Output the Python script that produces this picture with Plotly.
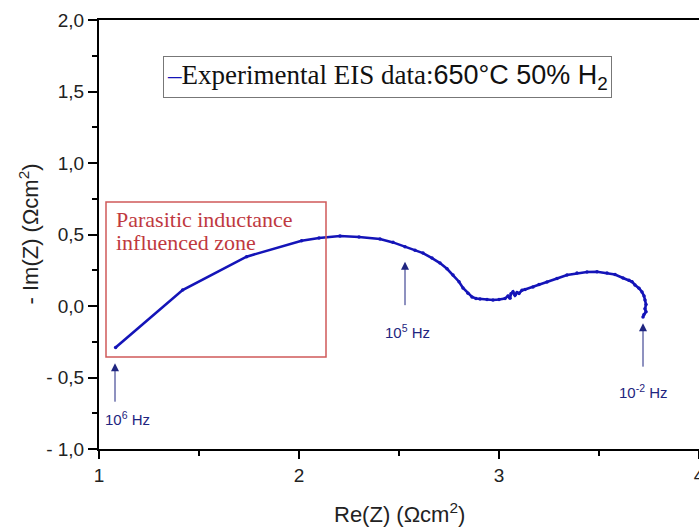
import plotly.graph_objects as go

# Nyquist data (Re(Z), -Im(Z)) in Ohm cm^2
re_z = [1.083, 1.418, 1.738, 2.013, 2.10, 2.205, 2.30, 2.405, 2.47, 2.53, 2.58, 2.62,
        2.665, 2.705, 2.74, 2.77, 2.80, 2.82, 2.845, 2.865, 2.885, 2.905, 2.94, 2.97,
        3.00, 3.03, 3.045, 3.055, 3.06, 3.07, 3.08, 3.09, 3.10, 3.115, 3.13, 3.17,
        3.20, 3.24, 3.29, 3.34, 3.39, 3.44, 3.49, 3.54, 3.58, 3.62, 3.65, 3.665,
        3.68, 3.70, 3.715, 3.725, 3.73, 3.735, 3.73, 3.735, 3.725, 3.72]
im_z = [-0.29, 0.112, 0.345, 0.457, 0.475, 0.49, 0.482, 0.469, 0.445, 0.415, 0.39, 0.37,
        0.335, 0.30, 0.26, 0.217, 0.17, 0.126, 0.09, 0.063, 0.052, 0.049, 0.045, 0.042,
        0.046, 0.052, 0.07, 0.055, 0.085, 0.10, 0.075, 0.095, 0.088, 0.11, 0.115, 0.133,
        0.15, 0.168, 0.192, 0.217, 0.23, 0.238, 0.24, 0.231, 0.22, 0.196, 0.18, 0.17,
        0.147, 0.125, 0.098, 0.07, 0.042, 0.01, -0.02, -0.04, -0.06, -0.077]

x_tickvals = [1, 2, 3, 4]
x_ticktext = ["1", "2", "3", "4"]
y_tickvals = [-1.0, -0.5, 0.0, 0.5, 1.0, 1.5, 2.0]
y_ticktext = ["- 1,0", "- 0,5", "0,0", "0,5", "1,0", "1,5", "2,0"]

# frequency markers
freq_x = [1.08, 2.53, 3.72]
freq_tip = [-0.40, 0.31, -0.12]
freq_labels = ["10<sup>6</sup> Hz", "10<sup>5</sup> Hz", "10<sup>-2</sup> Hz"]
label_x = [1.14, 2.54, 3.72]
label_y = [-0.79, -0.18, -0.60]

navy = "#1f2580"
blue = "#1414b8"
sans = "Liberation Sans, Arial, sans-serif"
serif = "Liberation Serif, Times New Roman, serif"

fig = go.Figure()
fig.add_trace(go.Scatter(
    x=re_z, y=im_z, mode="lines+markers",
    line=dict(color=blue, width=2.6),
    marker=dict(color=blue, size=3.5),
    showlegend=False, hoverinfo="skip"))

axis_font = dict(family=sans, size=19, color="#222")
fig.update_xaxes(range=[1, 4], tickvals=x_tickvals, ticktext=x_ticktext,
                 ticks="outside", ticklen=8, tickwidth=1.5, tickcolor="#000",
                 minor=dict(dtick=0.5, ticks="outside", ticklen=5, tickcolor="#000", tickwidth=1.5),
                 showline=True, linecolor="#000", linewidth=2, mirror=True,
                 ticklabeloverflow="allow", automargin=False,
                 showgrid=False, zeroline=False, tickfont=axis_font)
fig.update_yaxes(range=[-1.0, 2.0], tickvals=y_tickvals, ticktext=y_ticktext,
                 ticks="outside", ticklen=9, tickwidth=1.5, tickcolor="#000",
                 minor=dict(dtick=0.25, ticks="outside", ticklen=5, tickcolor="#000", tickwidth=1.5),
                 showline=True, linecolor="#000", linewidth=2, mirror=False,
                 automargin=False,
                 showgrid=False, zeroline=False, tickfont=axis_font)

annotations = []
annotations.append(dict(text="Re(Z) (Ωcm<sup>2</sup>)", xref="paper", yref="paper",
                        x=0.5, y=0, yshift=-64, xanchor="center", yanchor="middle", showarrow=False,
                        font=dict(family=sans, size=22, color="#222")))
annotations.append(dict(text="- Im(Z) (Ωcm<sup>2</sup>)", xref="paper", yref="paper",
                        x=0, y=0.5, xshift=-71, xanchor="center", yanchor="middle",
                        textangle=-90, showarrow=False,
                        font=dict(family=sans, size=22, color="#222")))
legend_text = ("<span style='color:" + blue + "'>–</span>Experimental EIS data:"
               "<span style='font-family:" + sans + "'>650°C 50% H<sub>2</sub></span>")
annotations.append(dict(
    text=legend_text,
    xref="x", yref="y", x=1.32, y=1.60, xanchor="left", yanchor="middle", showarrow=False,
    font=dict(family=serif, size=27, color="#111"),
    bordercolor="#777", borderwidth=1, borderpad=3, bgcolor="white"))
annotations.append(dict(text="Parasitic inductance", xref="x", yref="y",
                        x=1.075, y=0.603, xanchor="left", yanchor="middle", showarrow=False,
                        font=dict(family=serif, size=22, color="#c0393f")))
annotations.append(dict(text="influenced zone", xref="x", yref="y",
                        x=1.075, y=0.442, xanchor="left", yanchor="middle", showarrow=False,
                        font=dict(family=serif, size=22, color="#c0393f")))
tail_px = [40, 45, 45]
for fx, ft, tp in zip(freq_x, freq_tip, tail_px):
    annotations.append(dict(x=fx, y=ft, xref="x", yref="y", ax=0, ay=tp, text="",
                            showarrow=True, arrowhead=2, arrowsize=1.6, arrowwidth=1,
                            arrowcolor=navy))
for lx, ly, fl in zip(label_x, label_y, freq_labels):
    annotations.append(dict(x=lx, y=ly, xref="x", yref="y", text=fl, showarrow=False,
                            font=dict(family=sans, size=15, color=navy)))

fig.update_layout(
    width=699, height=529,
    margin=dict(l=99, r=0, t=20, b=80),
    plot_bgcolor="white", paper_bgcolor="white",
    annotations=annotations,
    shapes=[dict(type="rect", xref="x", yref="y", x0=1.035, x1=2.135, y0=-0.357, y1=0.727,
                 line=dict(color="#d05a5a", width=1.5))],
)

fig.write_html("out.html")
